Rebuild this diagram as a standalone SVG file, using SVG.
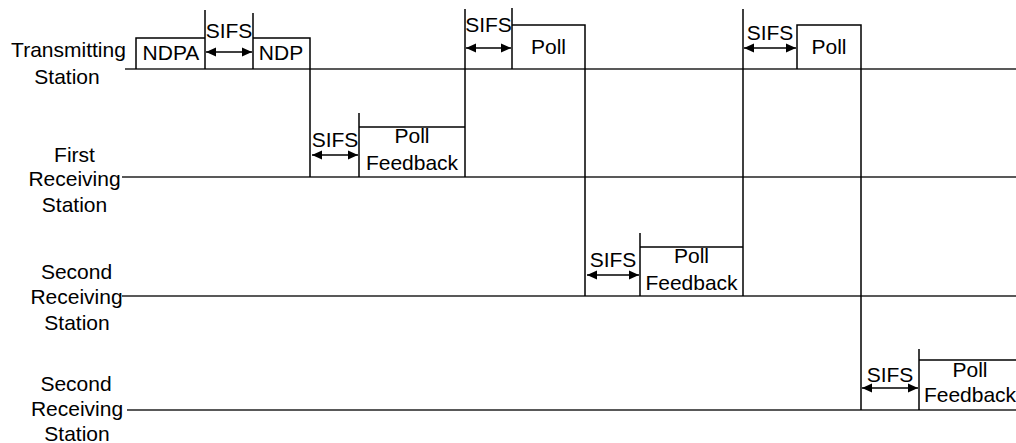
<svg xmlns="http://www.w3.org/2000/svg" width="1016" height="443" viewBox="0 0 1016 443">
<style>
  .ln{stroke:#000;stroke-width:1.5;fill:none}
  .tl{stroke:#222;stroke-width:1.6;fill:none}
  .t{font-family:"Liberation Sans",Arial,sans-serif;font-size:21px;fill:#000}
  .m{text-anchor:middle}
  .ar{stroke:#000;stroke-width:1.6;fill:none;marker-start:url(#ah);marker-end:url(#ah)}
</style>
<defs>
  <marker id="ah" markerUnits="userSpaceOnUse" markerWidth="11" markerHeight="10" refX="10" refY="5" orient="auto-start-reverse">
    <path d="M0,0.5 L10,5 L0,9.5 Z" fill="#000"/>
  </marker>
</defs>
<rect width="1016" height="443" fill="#fff"/>

<g id="transmitting-station">
  <text class="t m" x="68.5" y="57">Transmitting</text>
  <text class="t m" x="67" y="84">Station</text>
  <line class="tl" x1="125" y1="69" x2="1016" y2="69"/>
</g>
<g id="first-receiving-station">
  <text class="t m" x="74.5" y="162">First</text>
  <text class="t m" x="74.5" y="186">Receiving</text>
  <text class="t m" x="74.5" y="212">Station</text>
  <line class="tl" x1="122" y1="177" x2="1016" y2="177"/>
</g>
<g id="second-receiving-station-1">
  <text class="t m" x="76.5" y="279">Second</text>
  <text class="t m" x="76.5" y="304">Receiving</text>
  <text class="t m" x="77" y="330">Station</text>
  <line class="tl" x1="122" y1="296" x2="1016" y2="296"/>
</g>
<g id="second-receiving-station-2">
  <text class="t m" x="76" y="391">Second</text>
  <text class="t m" x="77" y="416">Receiving</text>
  <text class="t m" x="77" y="441">Station</text>
  <line class="tl" x1="127" y1="410" x2="1016" y2="410"/>
</g>

<g id="ndpa">
  <polyline class="ln" points="136,69 136,38 205,38"/>
  <text class="t m" x="171" y="60">NDPA</text>
</g>
<g id="ndp">
  <polyline class="ln" points="253,38 310,38 310,177"/>
  <text class="t m" x="281" y="60">NDP</text>
</g>
<g id="poll-1">
  <polyline class="ln" points="512,25 585,25 585,296"/>
  <text class="t m" x="548.5" y="54">Poll</text>
</g>
<g id="poll-2">
  <polyline class="ln" points="797,69 797,25 861,25 861,410"/>
  <text class="t m" x="829" y="54">Poll</text>
</g>
<g id="poll-feedback-1">
  <polyline class="ln" points="359,127 465,127"/>
  <text class="t m" x="412" y="143">Poll</text>
  <text class="t m" x="412" y="170">Feedback</text>
</g>
<g id="poll-feedback-2">
  <polyline class="ln" points="640,247 743,247"/>
  <text class="t m" x="691.5" y="263">Poll</text>
  <text class="t m" x="691.5" y="290">Feedback</text>
</g>
<g id="poll-feedback-3">
  <polyline class="ln" points="919,360 1016,360"/>
  <text class="t m" x="970" y="377">Poll</text>
  <text class="t m" x="970" y="402">Feedback</text>
</g>

<g id="sifs-labels">
  <text class="t m" x="229" y="38">SIFS</text>
  <text class="t m" x="335" y="147">SIFS</text>
  <text class="t m" x="488.5" y="32">SIFS</text>
  <text class="t m" x="613" y="267">SIFS</text>
  <text class="t m" x="770" y="40">SIFS</text>
  <text class="t m" x="890" y="382">SIFS</text>
</g>

<g id="connectors">
  <line class="ln" x1="205" y1="10" x2="205" y2="69"/>
  <line class="ln" x1="253" y1="13" x2="253" y2="69"/>
  <line class="ln" x1="359" y1="113" x2="359" y2="177"/>
  <line class="ln" x1="465" y1="9" x2="465" y2="177"/>
  <line class="ln" x1="512" y1="8" x2="512" y2="69"/>
  <line class="ln" x1="640" y1="233" x2="640" y2="296"/>
  <line class="ln" x1="743" y1="9" x2="743" y2="296"/>
  <line class="ln" x1="919" y1="349" x2="919" y2="410"/>
  <line class="ar" x1="206" y1="52" x2="252" y2="52"/>
  <line class="ar" x1="312" y1="155" x2="358" y2="155"/>
  <line class="ar" x1="466" y1="48" x2="511" y2="48"/>
  <line class="ar" x1="587" y1="275" x2="639" y2="275"/>
  <line class="ar" x1="744" y1="48" x2="796" y2="48"/>
  <line class="ar" x1="862" y1="388" x2="918" y2="388"/>
</g>
</svg>
